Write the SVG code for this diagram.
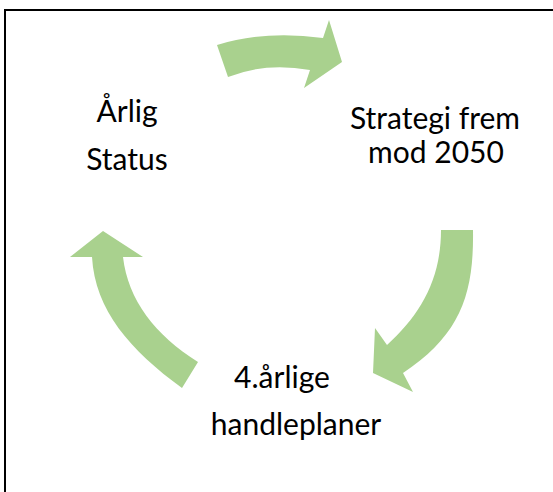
<svg xmlns="http://www.w3.org/2000/svg" width="553" height="492" viewBox="0 0 553 492">
<style>
.arrow{fill:#A9D18E;stroke:none}
.lbl{font-family:Lato,"Open Sans","Liberation Sans",sans-serif;font-size:30px;fill:#000;text-anchor:middle}
.frame{fill:none;stroke:#000;stroke-width:2}
</style>
<rect width="553" height="492" fill="#fff"/>
<path class="frame" d="M5,492 V10 H553"/>
<g id="connectors">
<path id="arrow-top" class="arrow" d="M217,45 Q265,30 323,38 L329,20 L342,62 L304,88 L310,70 Q265,62 228,77 Z"/>
<path id="arrow-right" class="arrow" d="M441,230 L473,230 C474,295 460,335 403,373 L413,392 L373,373 L375,328 L387,345 C420,315 441,280 441,230 Z"/>
<path id="arrow-left" class="arrow" d="M182,388 C130,350 95,310 92,257 L70,257 L103,231 L143,257 L123,257 C128,300 155,335 198,362 Z"/>
</g>
<g id="node-status">
<text class="lbl" x="127" y="122">Årlig</text>
<text class="lbl" x="127" y="170">Status</text>
</g>
<g id="node-strategi">
<text class="lbl" x="435" y="129">Strategi frem</text>
<text class="lbl" x="436" y="163">mod 2050</text>
</g>
<g id="node-handleplaner">
<text class="lbl" x="282" y="388">4.årlige</text>
<text class="lbl" x="296" y="435">handleplaner</text>
</g>
</svg>
